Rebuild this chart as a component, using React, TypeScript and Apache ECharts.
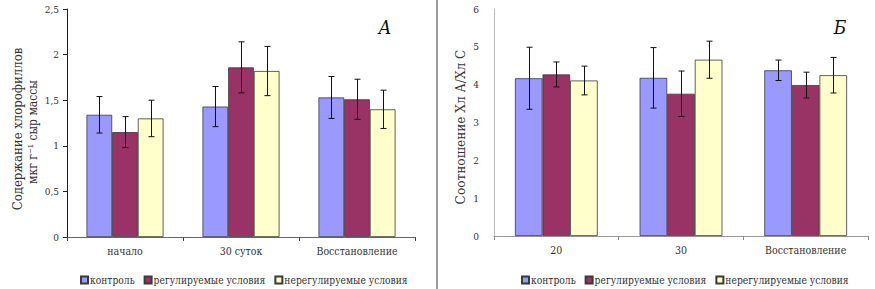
import React, { useEffect, useRef } from "react";
import * as echarts from "echarts";

const seriesNames = ["контроль", "регулируемые условия", "нерегулируемые условия"];
const colors = ["#9999FF", "#993366", "#FFFFCC"];

const categoriesA = ["начало", "30 суток", "Восстановление"];
const controlA = [1.34, 1.43, 1.53];
const regA = [1.15, 1.86, 1.51];
const unregA = [1.3, 1.82, 1.4];
const errControlA = [0.2, 0.22, 0.23];
const errRegA = [0.17, 0.28, 0.22];
const errUnregA = [0.2, 0.27, 0.21];
const yTicksA = [0, 0.5, 1, 1.5, 2, 2.5];

const categoriesB = ["20", "30", "Восстановление"];
const controlB = [4.17, 4.18, 4.38];
const regB = [4.27, 3.76, 3.99];
const unregB = [4.11, 4.66, 4.25];
const errControlB = [0.82, 0.8, 0.27];
const errRegB = [0.33, 0.6, 0.34];
const errUnregB = [0.38, 0.49, 0.47];
const yTicksB = [0, 1, 2, 3, 4, 5, 6];

const titleA1 = "Содержание хлорофиллов";
const titleA2 = "мкг г⁻¹ сыр массы";
const titleB = "Соотношение Хл А/Хл С";

const FONT = "'DejaVu Serif Condensed', 'DejaVu Serif', serif";
const CAT_GAP = 0.336;

function errSeries(idx: number, axisIdx: number, vals: number[], errs: number[]) {
  return {
    type: "custom",
    xAxisIndex: axisIdx,
    yAxisIndex: axisIdx,
    silent: true,
    z: 5,
    data: vals.map((v, i) => [i, v - errs[i], v + errs[i]]),
    encode: { x: 0, y: [1, 2] },
    renderItem: (params: any, api: any) => {
      const c = api.value(0);
      const lo = api.value(1);
      const hi = api.value(2);
      const band = api.size([1, 0])[0];
      const bw = (band * (1 - CAT_GAP)) / 3;
      const cx = Math.round(api.coord([c, 0])[0] + (idx - 1) * bw) + 0.5;
      const yTop = api.coord([c, hi])[1];
      const yBot = api.coord([c, lo])[1];
      const cap = 3;
      const st = { stroke: "#111", lineWidth: 1 };
      return {
        type: "group",
        children: [
          { type: "line", shape: { x1: cx, y1: yTop, x2: cx, y2: yBot }, style: st },
          { type: "line", shape: { x1: cx - cap, y1: yTop, x2: cx + cap, y2: yTop }, style: st },
          { type: "line", shape: { x1: cx - cap, y1: yBot, x2: cx + cap, y2: yBot }, style: st },
        ],
      };
    },
  };
}

function barSeries(idx: number, axisIdx: number, vals: number[]) {
  return {
    type: "bar",
    name: seriesNames[idx],
    xAxisIndex: axisIdx,
    yAxisIndex: axisIdx,
    data: vals,
    barGap: "0%",
    barCategoryGap: CAT_GAP * 100 + "%",
    itemStyle: { color: colors[idx], borderColor: "#3a3a3a", borderWidth: 0.8 },
  };
}

export default function App() {
  const ref = useRef<HTMLDivElement>(null);
  useEffect(() => {
    if (!ref.current) return;
    const chart = echarts.init(ref.current, undefined, { renderer: "svg" });
    const fmt = (v: number) => String(v).replace(".", ",");
    const legendBase = {
      top: 270,
      icon: "rect",
      itemWidth: 7,
      itemHeight: 7,
      itemGap: 9,
      data: seriesNames,
      textStyle: { fontFamily: FONT, fontSize: 10.2, color: "#333", padding: [0, 0, 0, -3] },
    };
    const option: any = {
      animation: false,
      backgroundColor: "#ffffff",
      textStyle: { fontFamily: FONT },
      grid: [
        { left: 67, top: 9, width: 348, height: 228 },
        { left: 494, top: 9, width: 374, height: 227 },
      ],
      xAxis: [
        {
          type: "category",
          gridIndex: 0,
          data: categoriesA,
          axisLine: { lineStyle: { color: "#666", width: 1 } },
          axisTick: { show: true, length: 4, lineStyle: { color: "#444" } },
          axisLabel: { interval: 0, fontFamily: FONT, fontSize: 10.5, color: "#333", margin: 8 },
        },
        {
          type: "category",
          gridIndex: 1,
          data: categoriesB,
          axisLine: { lineStyle: { color: "#999", width: 1 } },
          axisTick: { show: true, length: 4, lineStyle: { color: "#888" } },
          axisLabel: { interval: 0, fontFamily: FONT, fontSize: 10.5, color: "#333", margin: 8 },
        },
      ],
      yAxis: [
        {
          type: "value",
          gridIndex: 0,
          min: yTicksA[0],
          max: yTicksA[yTicksA.length - 1],
          interval: 0.5,
          splitLine: { show: false },
          axisLine: { show: true, lineStyle: { color: "#222", width: 1 } },
          axisTick: { show: true, length: 4, lineStyle: { color: "#222" } },
          axisLabel: { fontFamily: FONT, fontSize: 10, color: "#333", margin: 8, formatter: fmt },
        },
        {
          type: "value",
          gridIndex: 1,
          min: yTicksB[0],
          max: yTicksB[yTicksB.length - 1],
          interval: 1,
          splitLine: { show: false },
          axisLine: { show: true, lineStyle: { color: "#bbb", width: 1 } },
          axisTick: { show: false },
          axisLabel: { fontFamily: FONT, fontSize: 10, color: "#333", margin: 15, formatter: fmt },
        },
      ],
      legend: [
        { ...legendBase, left: 75 },
        { ...legendBase, left: 516 },
      ],
      series: [
        barSeries(0, 0, controlA),
        barSeries(1, 0, regA),
        barSeries(2, 0, unregA),
        errSeries(0, 0, controlA, errControlA),
        errSeries(1, 0, regA, errRegA),
        errSeries(2, 0, unregA, errUnregA),
        barSeries(0, 1, controlB),
        barSeries(1, 1, regB),
        barSeries(2, 1, unregB),
        errSeries(0, 1, controlB, errControlB),
        errSeries(1, 1, regB, errRegB),
        errSeries(2, 1, unregB, errUnregB),
      ],
      graphic: [
        { type: "rect", shape: { x: 436, y: 0, width: 2, height: 289 }, style: { fill: "#9a9a9a" } },
        {
          type: "text",
          x: 17,
          y: 129,
          rotation: Math.PI / 2,
          style: { text: titleA1, fontFamily: FONT, fontSize: 13, fill: "#333", align: "center", verticalAlign: "middle" },
        },
        {
          type: "text",
          x: 33,
          y: 132,
          rotation: Math.PI / 2,
          style: { text: titleA2, fontFamily: FONT, fontSize: 12, fill: "#333", align: "center", verticalAlign: "middle" },
        },
        {
          type: "text",
          x: 460,
          y: 127,
          rotation: Math.PI / 2,
          style: { text: titleB, fontFamily: FONT, fontSize: 13.5, fill: "#333", align: "center", verticalAlign: "middle" },
        },
        {
          type: "text",
          x: 385,
          y: 27,
          style: { text: "А", fontFamily: FONT, fontStyle: "italic", fontSize: 19, fill: "#111", align: "center", verticalAlign: "middle" },
        },
        {
          type: "text",
          x: 840,
          y: 27,
          style: { text: "Б", fontFamily: FONT, fontStyle: "italic", fontSize: 19, fill: "#111", align: "center", verticalAlign: "middle" },
        },
      ],
    };
    chart.setOption(option);
    return () => chart.dispose();
  }, []);
  return (
    <div
      ref={ref}
      style={{ position: "absolute", left: 0, top: 0, width: 875, height: 289 }}
    />
  );
}
